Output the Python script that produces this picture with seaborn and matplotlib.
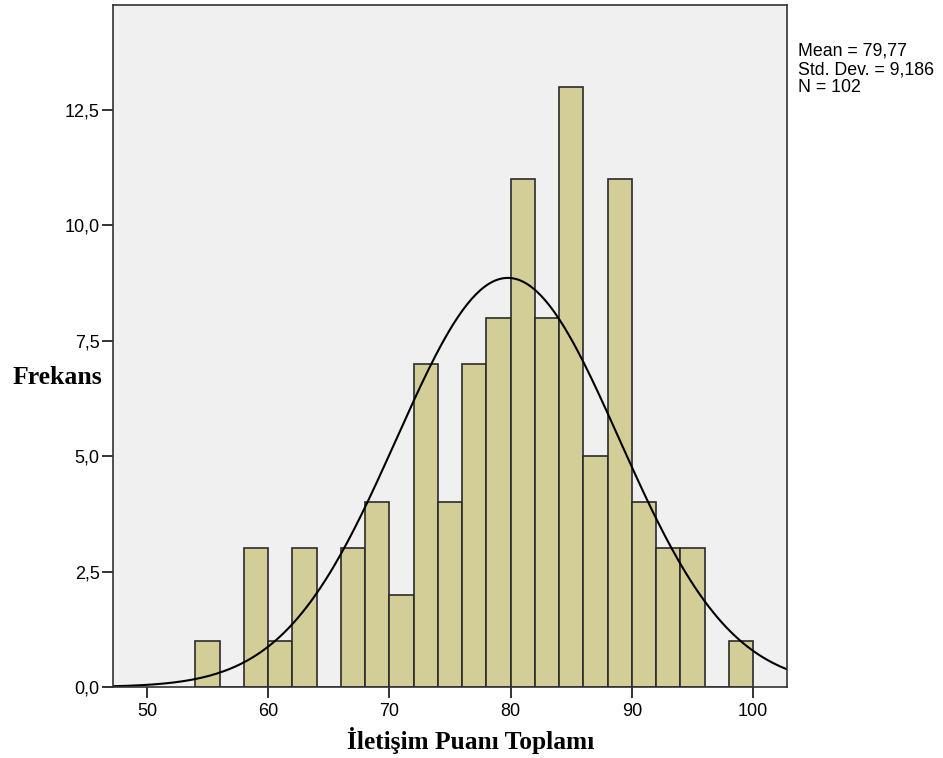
import numpy as np
import pandas as pd
import matplotlib
matplotlib.use("Agg")
import matplotlib.pyplot as plt
import seaborn as sns

# histogram data (bin width 2)
bin_left = [54, 58, 60, 62, 66, 68, 70, 72, 74, 76, 78, 80, 82, 84, 86, 88, 90, 92, 94, 98]
counts = [1, 3, 1, 3, 3, 4, 2, 7, 4, 7, 8, 11, 8, 13, 5, 11, 4, 3, 3, 1]
mean_val = 79.77
std_val = 9.186
n_total = 102
bin_width = 2

y_ticks = [0, 2.5, 5.0, 7.5, 10.0, 12.5]
x_ticks = [50, 60, 70, 80, 90, 100]

sns.set_style("white")
plt.rcParams['font.family'] = ['Liberation Sans', 'DejaVu Sans']
plt.rcParams['text.color'] = 'black'

df = pd.DataFrame({'score': [b + bin_width / 2 for b in bin_left], 'count': counts})

fig = plt.figure(figsize=(9.43, 7.58), dpi=100)
ax = fig.add_axes([113 / 943, 1 - 687 / 758, (787 - 113) / 943, (687 - 5) / 758])
ax.set_facecolor('#f0f0f0')

sns.histplot(data=df, x='score', weights='count', binwidth=bin_width, binrange=(54, 100), ax=ax,
             color='#d3ce98', alpha=1, edgecolor='#2b2b2b', linewidth=1.2)

# fitted normal curve
xmin, xmax = 47.2, 102.8
xs = np.linspace(xmin, xmax, 300)
ys = n_total * bin_width * np.exp(-0.5 * ((xs - mean_val) / std_val) ** 2) / (std_val * np.sqrt(2 * np.pi))
sns.lineplot(x=xs, y=ys, ax=ax, color='black', linewidth=1.5)

ax.set_xlim(xmin, xmax)
ax.set_ylim(0, 14.77)
ax.set_xticks(x_ticks)
ax.set_xticklabels([str(t) for t in x_ticks], fontsize=13)
ax.set_yticks(y_ticks)
ax.set_yticklabels([f"{t:.1f}".replace('.', ',') for t in y_ticks], fontsize=13)
ax.tick_params(axis='both', bottom=True, left=True, length=8, width=1.4,
               color='#333333', labelcolor='black', direction='out')
ax.tick_params(axis='x', pad=3.5)
ax.tick_params(axis='y', pad=1.5)

for sp in ax.spines.values():
    sp.set_color('#333333')
    sp.set_linewidth(1.2)

ax.set_xlabel('İletişim Puanı Toplamı', family='Liberation Serif', fontweight='bold',
              fontsize=18.3, color='black', va='center')
ax.xaxis.set_label_coords((471 - 113) / 674, (687 - 740) / 682)
ax.set_ylabel('Frekans', family='Liberation Serif', fontweight='bold', fontsize=18.5,
              rotation=0, color='black', ha='center', va='center')
ax.yaxis.set_label_coords((57 - 113) / 674, (687 - 378) / 682)

fig.text(798 / 943, 1 - 43 / 758, 'Mean = 79,77\nStd. Dev. = 9,186\nN = 102',
         fontsize=12.8, va='top', ha='left', linespacing=1.08)

fig.savefig('out.png', dpi=100)
